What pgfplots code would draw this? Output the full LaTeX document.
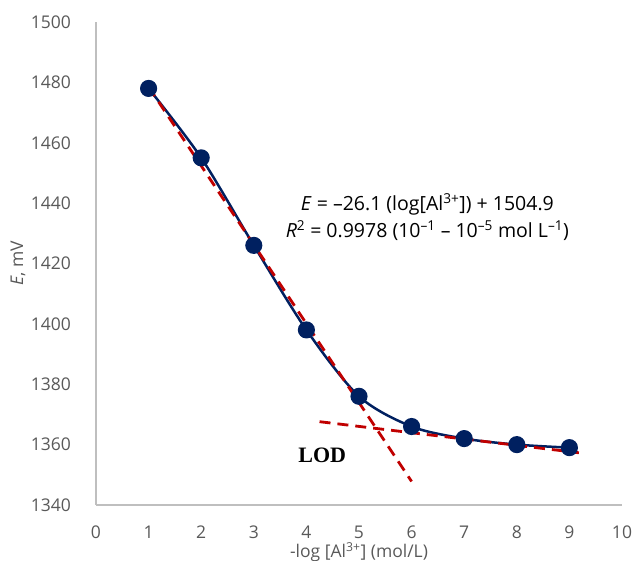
\documentclass[border=0pt]{standalone}
\usepackage{pgfplots}
\pgfplotsset{compat=1.18}
\usepackage{fontspec}
\setmainfont{Open Sans}
\newfontfamily\timesfont{Liberation Serif}
\definecolor{navy}{HTML}{002060}
\definecolor{dred}{HTML}{C00000}
\definecolor{axgrey}{HTML}{BFBFBF}
\definecolor{txtgrey}{HTML}{595959}
\begin{document}
\fontsize{17.5}{21}\selectfont
\begin{tikzpicture}
\begin{axis}[
  scale only axis, width=526pt, height=483pt,
  xmin=0, xmax=10, ymin=1340, ymax=1500,
  xtick={0,1,...,10}, ytick={1340,1360,...,1500},
  axis lines*=left, axis line style={axgrey, line width=1.3pt},
  tick style={draw=none},
  ticklabel style={text=txtgrey, font=\fontsize{17.5}{21}\selectfont},
  /pgf/number format/assume math mode=true,
  /pgf/number format/1000 sep={},
  xticklabel style={yshift=-15pt},
  yticklabel style={xshift=-19pt},
  xlabel={-log [Al\textsuperscript{3+}] (mol/L)},
  ylabel={\textit{E}, mV},
  label style={text=txtgrey, font=\fontsize{17.5}{21}\selectfont},
  xlabel style={at={(axis description cs:0.5,0)}, anchor=center, yshift=-47pt},
  ylabel style={at={(axis description cs:0,0.5)}, anchor=center, yshift=78pt},
  clip=false,
]
\coordinate (bl) at (rel axis cs:0,0);
\addplot[navy, line width=2.5pt, smooth, tension=0.5, mark=*, mark size=7.3pt, mark options={fill=navy, draw=navy}]
 coordinates {(1,1478) (2,1455) (3,1426) (4,1398) (5,1376) (6,1366) (7,1362) (8,1360) (9,1359)};
\addplot[dred, line width=2.8pt, dash pattern=on 11pt off 7pt] coordinates {(1,1478.5) (6,1347.8)};
\addplot[dred, line width=2.8pt, dash pattern=on 11pt off 7pt] coordinates {(4.25,1367.6) (9.18,1357.3)};
\node[font=\timesfont\bfseries\fontsize{22}{25}\selectfont, text=black] at (axis cs:4.3,1356.6) {LOD};
\node[align=center, text=black, font=\fontsize{19.5}{27}\selectfont] at (axis cs:6.3,1435.3)
 {\textit{E} = –26.1 (log[Al\textsuperscript{3+}]) + 1504.9\\
  \textit{R}\textsuperscript{2} = 0.9978 (10\textsuperscript{–1} – 10\textsuperscript{–5} mol L\textsuperscript{–1})};
\end{axis}
\pgfresetboundingbox
\path ([shift={(-96pt,-56pt)}]bl) rectangle ++(635pt,561pt);
\end{tikzpicture}
\end{document}
